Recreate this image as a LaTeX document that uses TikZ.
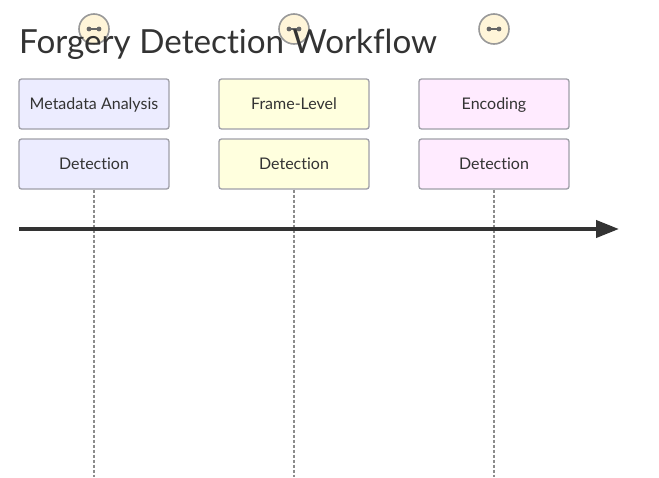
\documentclass[tikz,border=0pt]{standalone}
\usepackage{fontspec}
\setmainfont[Ligatures=NoCommon]{Lato}
\usetikzlibrary{arrows.meta}
\definecolor{txt}{HTML}{333333}
\definecolor{edge}{HTML}{9F9FA8}
\tikzset{
  x=1pt,y=-1pt,
  card/.style={draw=edge,line width=1.3pt,rounded corners=2.5pt,minimum width=150pt,minimum height=50pt,inner sep=0pt,text=txt,text height=12pt,text depth=2pt,font=\fontsize{16}{19}\selectfont},
  life/.style={draw=black!45,line width=1.3pt,dash pattern=on 3pt off 2pt},
  badge/.style={circle,draw=black!40,line width=1.6pt,fill=cream,minimum size=30pt,inner sep=0pt},
  axis/.style={draw=txt,line width=4pt,-{Triangle[length=23pt,width=17pt]}}
}
\definecolor{cream}{HTML}{FFF5D9}
\definecolor{lav}{HTML}{ECECFF}
\definecolor{lem}{HTML}{FFFFDE}
\definecolor{pnk}{HTML}{FFEBFF}
\begin{document}
\begin{tikzpicture}
\useasboundingbox (0,0) rectangle (659,477);
\foreach \n/\x in {a/94,b/294,c/494}{
  \node[badge] (badge\n) at (\x,29) {};
  \fill[black!60] (\x-5,29) circle (2.4pt) (\x+5,29) circle (2.4pt);
  \draw[black!60,line width=1.2pt] (\x-5,29) -- (\x+5,29);
}
\node[anchor=base west,inner sep=0pt,text=txt,font=\fontsize{33.2}{38}\selectfont] (title) at (19,53.5) {Forgery Detection Workflow};
\node[card,fill=lav] (m1) at (94,104) {Metadata Analysis};
\node[card,fill=lav] (d1) at (94,164) {Detection};
\node[card,fill=lem] (m2) at (294,104) {Frame-Level};
\node[card,fill=lem] (d2) at (294,164) {Detection};
\node[card,fill=pnk] (m3) at (494,104) {Encoding};
\node[card,fill=pnk] (d3) at (494,164) {Detection};
\coordinate (e1) at (94,477);
\coordinate (e2) at (294,477);
\coordinate (e3) at (494,477);
\draw[life] (d1.south) -- (e1);
\draw[life] (d2.south) -- (e2);
\draw[life] (d3.south) -- (e3);
\coordinate (s) at (19,229);
\coordinate (t) at (619,229);
\draw[axis] (s) -- (t);
\end{tikzpicture}
\end{document}
